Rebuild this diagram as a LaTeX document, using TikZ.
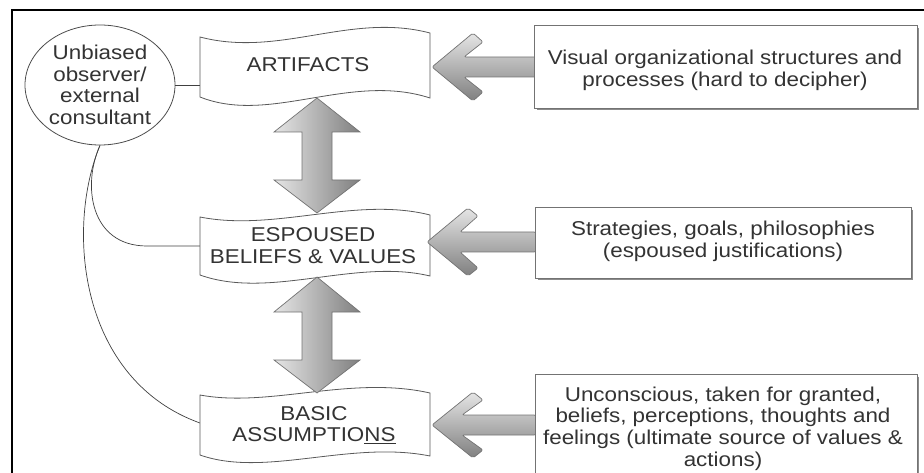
\documentclass[tikz,border=0pt]{standalone}
\usepackage{fontspec}
\setmainfont[FakeStretch=1.12]{Liberation Sans}
\usetikzlibrary{shapes.geometric}
\begin{document}
\begin{tikzpicture}[x=1pt,y=-1pt,
  txt/.style={font=\fontsize{20}{22}\selectfont, text=black!80, align=center, inner sep=0pt},
  wave/.style={draw=black!65, line width=0.8pt, fill=white},
  vbar/.style={draw=black!55, line width=0.7pt, shading=axis, left color=black!10, right color=black!50},
  hbar/.style={draw=black!55, line width=0.7pt, shading=axis, top color=black!10, bottom color=black!50, rounded corners=2pt},
  rbox/.style={draw=black!55, line width=0.9pt, fill=white, inner sep=0pt},
  link/.style={draw=black!75, line width=0.7pt}
]
\useasboundingbox (0,0) rectangle (924,473);
\clip (0,0) rectangle (924,473);

% outer frame
\draw[line width=2pt] (12,490) -- (12,10.5) -- (940,10.5);

% ellipse
\node[ellipse, draw=black!70, line width=0.8pt, minimum width=150pt, minimum height=120pt, inner sep=0pt] (ell) at (100,85) {};
\node[txt, font=\fontsize{20}{21.7}\selectfont] (elltext) at (100,85) {Unbiased\\observer/\\external\\consultant};

% coordinates on wavy boxes
\coordinate (artL) at (200,85);
\coordinate (espL) at (200,246);
\coordinate (basL) at (200,423);

% connectors from the ellipse
\draw[link] (ell.east) -- (artL);
\draw[link] (ell.south) .. controls (82,185) and (90,246) .. (147,246) -- (espL);
\draw[link] (ell.south) .. controls (65,230) and (80,380) .. (basL);

% wavy boxes
\path[wave] (200,37) .. controls (280,58) and (350,12) .. (430,33)
  -- (430,98) .. controls (350,72) and (270,125) .. (200,97) -- cycle;
\path[wave] (200,217) .. controls (275,232) and (355,196) .. (430,215)
  -- (430,276) .. controls (355,258) and (270,300) .. (200,275) -- cycle;
\path[wave] (200,395) .. controls (270,408) and (350,375) .. (430,393)
  -- (430,456) .. controls (350,440) and (265,478) .. (200,455) -- cycle;

\node[txt] (art) at (308,65) {ARTIFACTS};
\node[txt] (esp) at (313,246) {ESPOUSED\\BELIEFS \& VALUES};
\node[txt, font=\fontsize{20}{21}\selectfont] (bas) at (314,425) {BASIC\\ASSUMPTIO\underline{NS}};

% vertical double arrows
\path[vbar] (317,98) -- (360,132) -- (332,132) -- (332,180) -- (360,180) -- (317,213)
  -- (274,180) -- (302,180) -- (302,132) -- (274,132) -- cycle;
\path[vbar] (317,277) -- (360,312) -- (332,312) -- (332,360) -- (360,360) -- (317,393)
  -- (274,360) -- (302,360) -- (302,312) -- (274,312) -- cycle;

% left-pointing arrows
\path[hbar] (432,67) -- (473,33) -- (483,42) -- (464,57) -- (536,57) -- (536,77)
  -- (464,77) -- (483,92) -- (473,101) -- cycle;
\path[hbar] (427,242) -- (468,208) -- (478,216) -- (460,232) -- (536,232) -- (536,252)
  -- (460,252) -- (478,268) -- (468,276) -- cycle;
\path[hbar] (432,425) -- (473,392) -- (483,400) -- (462,415) -- (536,415) -- (536,435)
  -- (462,435) -- (483,450) -- (473,458) -- cycle;

% right boxes
\node[rbox, minimum width=383pt, minimum height=83pt] (r1) at (725.5,66.5) {};
\node[rbox, minimum width=376pt, minimum height=71pt] (r2) at (723,242.5) {};
\node[rbox, minimum width=382pt, minimum height=109pt] (r3) at (726,428.5) {};
\draw[black!45, line width=1pt] ([shift={(1.5,3)}]r1.north east) -- ([shift={(1.5,1.5)}]r1.south east) -- ([shift={(3,1.5)}]r1.south west);
\draw[black!45, line width=1pt] ([shift={(1.5,3)}]r2.north east) -- ([shift={(1.5,1.5)}]r2.south east) -- ([shift={(3,1.5)}]r2.south west);
\draw[black!45, line width=1pt] ([shift={(1.5,3)}]r3.north east) -- ([shift={(1.5,1.5)}]r3.south east);

\node[txt] (t1) at (725,70) {Visual organizational structures and\\processes (hard to decipher)};
\node[txt] (t2) at (723,241.5) {Strategies, goals, philosophies\\(espoused justifications)};
\node[txt, font=\fontsize{20}{21.7}\selectfont] (t3) at (723,428.5) {Unconscious, taken for granted,\\beliefs, perceptions, thoughts and\\feelings (ultimate source of values \&\\actions)};
\end{tikzpicture}
\end{document}
